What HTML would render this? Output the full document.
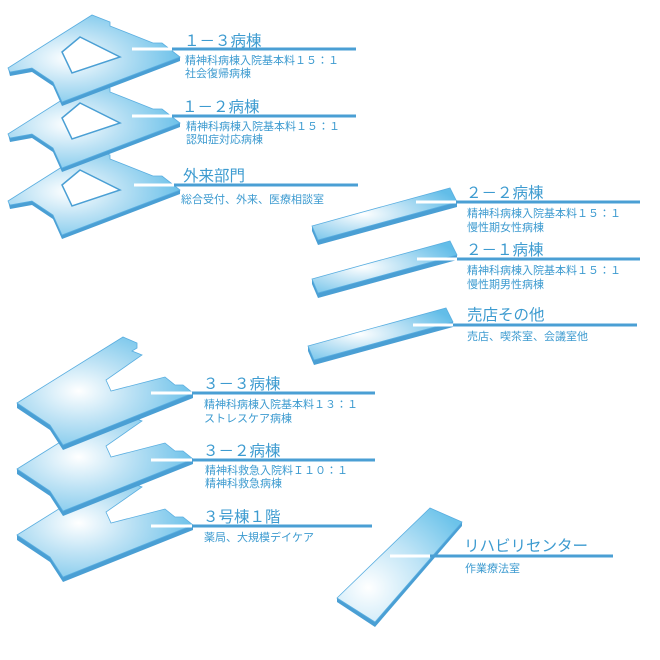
<!DOCTYPE html>
<html><head><meta charset="utf-8"><style>
body{margin:0;background:#fff}
svg{display:block}
.t{font-family:"Liberation Sans","Noto Sans CJK JP",sans-serif;fill:#3d9bd0}
.h{font-size:15.5px}
.s{font-size:11px}
</style></head><body>
<svg width="660" height="660" viewBox="0 0 660 660" xmlns="http://www.w3.org/2000/svg">
<defs>
<radialGradient id="g" cx="0.35" cy="0.5" r="0.7">
<stop offset="0" stop-color="#ffffff"/><stop offset="0.4" stop-color="#bfe3f5"/><stop offset="1" stop-color="#62bde8"/>
</radialGradient>
<radialGradient id="g2" cx="0.25" cy="0.7" r="0.9">
<stop offset="0" stop-color="#ffffff"/><stop offset="0.5" stop-color="#bfe4f6"/><stop offset="1" stop-color="#6cc3ea"/>
</radialGradient>
<g id="top">
<path d="M8,68 L92,15 L110,22 L110,26 L153,43 L162,43 L180,57 L180,61 L62,106 L53,86 L32,72 L10,76 Z" fill="#4a9fd4"/>
<path d="M8,68 L92,15 L110,22 L110,26 L153,43 L162,43 L180,57 L62,102 L53,82 L32,68 L10,72 Z" fill="url(#g)" stroke="#5aaee0" stroke-width="0.8"/>
<path d="M62,52 L80,37 L120,57 L72,73 Z" fill="#fff" stroke="#4a9fd4" stroke-width="1.5"/>
</g>
<g id="low">
<path d="M17,403 L123,337 L137,343 L137,348 L132,351 L142,355 L106,380 L111,391 L165,377 L175,385 L183,385 L193,393 L193,398 L63,450 L50,430 L17,408 Z" fill="#4a9fd4"/>
<path d="M17,403 L123,337 L137,343 L137,348 L132,351 L142,355 L106,380 L111,391 L165,377 L175,385 L183,385 L193,393 L63,445 L50,425 Z" fill="url(#g)" stroke="#5aaee0" stroke-width="0.8"/>
</g>
<g id="slab">
<path d="M312,226 L450,188 L457,202 L457,207 L318,245 L312,231 Z" fill="#4a9fd4"/>
<path d="M312,226 L450,188 L457,202 L318,240 Z" fill="url(#g)" stroke="#5aaee0" stroke-width="0.8"/>
</g>
</defs>
<use href="#top" y="133"/>
<use href="#top" y="66"/>
<use href="#top"/>
<use href="#low" y="132"/>
<use href="#low" y="66"/>
<use href="#low"/>
<use href="#slab"/>
<use href="#slab" y="53"/>
<use href="#slab" x="-4" y="120"/>
<path d="M337,598 L430,508 L462,522 L462,526 L375,627 L337,602 Z" fill="#4a9fd4"/>
<path d="M337,598 L430,508 L462,522 L375,622 Z" fill="url(#g2)" stroke="#5aaee0" stroke-width="0.8"/>

<g stroke-width="3">
<line x1="132" y1="49" x2="172" y2="49" stroke="#fff"/><line x1="172" y1="49" x2="356" y2="49" stroke="#4a9fd4"/>
<line x1="132" y1="116" x2="172" y2="116" stroke="#fff"/><line x1="172" y1="116" x2="356" y2="116" stroke="#4a9fd4"/>
<line x1="134" y1="185" x2="174" y2="185" stroke="#fff"/><line x1="174" y1="185" x2="358" y2="185" stroke="#4a9fd4"/>
<line x1="416" y1="202" x2="456" y2="202" stroke="#fff"/><line x1="456" y1="202" x2="640" y2="202" stroke="#4a9fd4"/>
<line x1="417" y1="259" x2="457" y2="259" stroke="#fff"/><line x1="457" y1="259" x2="640" y2="259" stroke="#4a9fd4"/>
<line x1="413" y1="325" x2="453" y2="325" stroke="#fff"/><line x1="453" y1="325" x2="637" y2="325" stroke="#4a9fd4"/>
<line x1="151" y1="393" x2="192" y2="393" stroke="#fff"/><line x1="192" y1="393" x2="375" y2="393" stroke="#4a9fd4"/>
<line x1="151" y1="460" x2="192" y2="460" stroke="#fff"/><line x1="192" y1="460" x2="375" y2="460" stroke="#4a9fd4"/>
<line x1="151" y1="526" x2="192" y2="526" stroke="#fff"/><line x1="192" y1="526" x2="372" y2="526" stroke="#4a9fd4"/>
<line x1="390" y1="556" x2="430" y2="556" stroke="#fff"/><line x1="430" y1="556" x2="613" y2="556" stroke="#4a9fd4"/>
</g>

<text class="t h" x="184" y="46">１－３病棟</text>
<text class="t s" x="185" y="64">精神科病棟入院基本料１５：１</text>
<text class="t s" x="185" y="77">社会復帰病棟</text>
<text class="t h" x="182" y="112">１－２病棟</text>
<text class="t s" x="186" y="130">精神科病棟入院基本料１５：１</text>
<text class="t s" x="186" y="143">認知症対応病棟</text>
<text class="t h" x="183" y="181">外来部門</text>
<text class="t s" x="181" y="203">総合受付、外来、医療相談室</text>
<text class="t h" x="466" y="198">２－２病棟</text>
<text class="t s" x="467" y="217">精神科病棟入院基本料１５：１</text>
<text class="t s" x="467" y="231">慢性期女性病棟</text>
<text class="t h" x="466" y="255">２－１病棟</text>
<text class="t s" x="467" y="274">精神科病棟入院基本料１５：１</text>
<text class="t s" x="467" y="288">慢性期男性病棟</text>
<text class="t h" x="467" y="320">売店その他</text>
<text class="t s" x="467" y="340">売店、喫茶室、会議室他</text>
<text class="t h" x="203" y="389">３－３病棟</text>
<text class="t s" x="204" y="408">精神科病棟入院基本料１３：１</text>
<text class="t s" x="204" y="422">ストレスケア病棟</text>
<text class="t h" x="203" y="456">３－２病棟</text>
<text class="t s" x="205" y="474">精神科救急入院料Ｉ１０：１</text>
<text class="t s" x="205" y="487">精神科救急病棟</text>
<text class="t h" x="203" y="522">３号棟１階</text>
<text class="t s" x="204" y="541">薬局、大規模デイケア</text>
<text class="t h" x="464" y="551">リハビリセンター</text>
<text class="t s" x="465" y="572">作業療法室</text>
</svg>
</body></html>
